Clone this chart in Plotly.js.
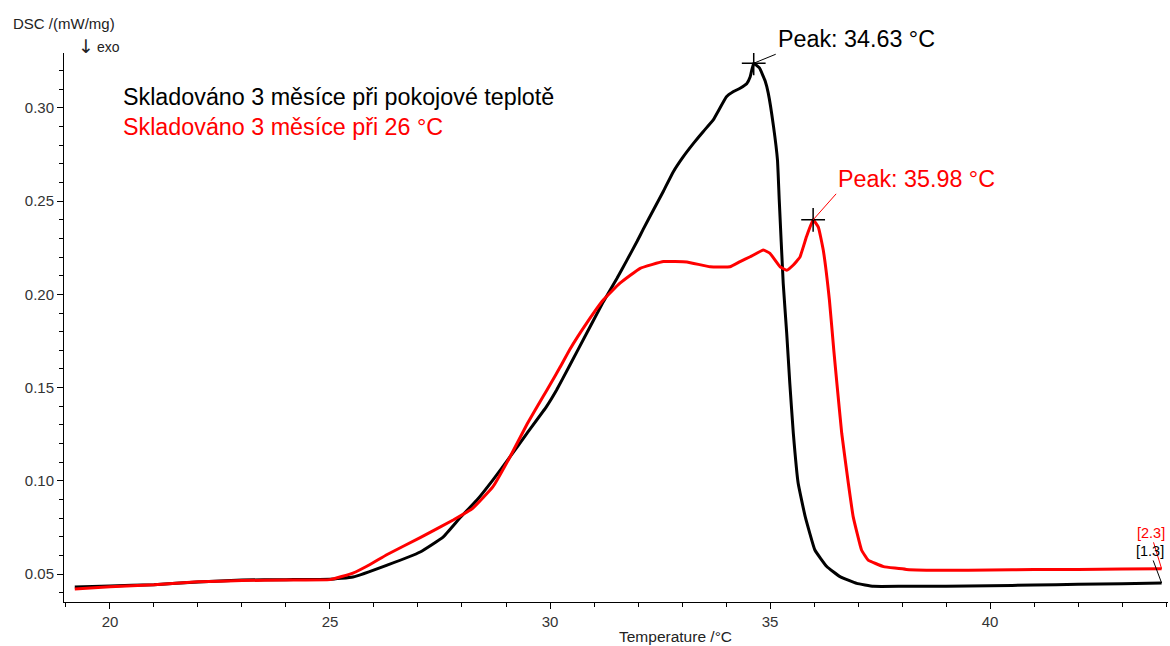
<!DOCTYPE html>
<html>
<head>
<meta charset="utf-8">
<script src="https://cdn.plot.ly/plotly-3.0.1.min.js"></script>
<style>html,body{margin:0;padding:0;background:#fff;}#chart{width:1170px;height:646px;}</style>
</head>
<body>
<div id="chart"></div>
<script>
const blackT = [19.2, 20, 21, 22, 23, 24, 25, 25.52, 26.3, 27.05, 27.57, 27.95, 28.34, 28.7, 29.09, 29.48, 29.92, 30.15, 30.45, 30.83, 31.21, 31.52, 31.74, 31.98, 32.12, 32.35, 32.58, 32.8, 33.03, 33.26, 33.48, 33.71, 34.01, 34.17, 34.32, 34.47, 34.55, 34.63, 34.76, 34.89, 34.96, 35.08, 35.17, 35.21, 35.3, 35.38, 35.45, 35.53, 35.64, 35.8, 36.02, 36.29, 36.59, 36.97, 37.35, 38, 39, 40, 41, 42, 43, 43.9];
const blackV = [0.043, 0.0436, 0.0443, 0.0457, 0.0468, 0.047, 0.0472, 0.0484, 0.0548, 0.0618, 0.0698, 0.080, 0.0897, 0.1004, 0.1128, 0.1256, 0.1398, 0.1487, 0.162, 0.179, 0.196, 0.2085, 0.218, 0.2285, 0.235, 0.2453, 0.2555, 0.2657, 0.2739, 0.281, 0.2873, 0.2936, 0.306, 0.3088, 0.3106, 0.313, 0.3168, 0.324, 0.3215, 0.3145, 0.308, 0.290, 0.272, 0.2506, 0.206, 0.179, 0.1523, 0.1255, 0.0987, 0.0808, 0.0629, 0.054, 0.0486, 0.045, 0.0434, 0.0434, 0.0435, 0.0437, 0.0441, 0.0445, 0.0448, 0.0452];

const redT = [19.2, 20, 21, 22, 23, 24, 25, 25.52, 25.9, 26.3, 27.05, 27.8, 28.25, 28.7, 29.09, 29.48, 29.85, 30.0, 30.23, 30.45, 30.83, 31.21, 31.59, 32.05, 32.58, 33.11, 33.64, 34.09, 34.32, 34.55, 34.85, 35.0, 35.23, 35.38, 35.53, 35.68, 35.83, 35.98, 36.1, 36.21, 36.35, 36.45, 36.52, 36.63, 36.78, 36.89, 37.08, 37.23, 37.58, 38.1, 39, 40, 41, 42, 43, 43.9];
const redV = [0.042, 0.0432, 0.0442, 0.0458, 0.0465, 0.0468, 0.047, 0.0505, 0.055, 0.0605, 0.0695, 0.079, 0.0854, 0.0967, 0.1128, 0.1305, 0.1455, 0.1515, 0.161, 0.1705, 0.1845, 0.197, 0.206, 0.214, 0.2176, 0.2174, 0.2148, 0.2148, 0.2176, 0.2202, 0.2238, 0.222, 0.2148, 0.213, 0.2158, 0.220, 0.231, 0.240, 0.236, 0.2238, 0.197, 0.170, 0.1523, 0.1255, 0.0987, 0.0808, 0.0629, 0.0575, 0.054, 0.0525, 0.052, 0.0522, 0.0524, 0.0525, 0.0527, 0.0528];

const peakBlack = {t: 34.63, v: 0.324};
const peakRed = {t: 35.98, v: 0.240};
const seriesNames = ["Skladováno 3 měsíce při pokojové teplotě", "Skladováno 3 měsíce při 26 °C"];
const peakLabels = ["Peak: 34.63 °C", "Peak: 35.98 °C"];
const endLabels = ["[1.3]", "[2.3]"];
const xTitle = "Temperature /°C";
const yTitle = "DSC /(mW/mg)";
const yArrow = "↓";
const yTitle2 = "exo";

const FONT = "Liberation Sans, Arial, sans-serif";

const traces = [
  {x: blackT, y: blackV, mode: 'lines', line: {color: '#000000', width: 3, shape: 'spline', smoothing: 0.3}, hoverinfo: 'skip'},
  {x: redT, y: redV, mode: 'lines', line: {color: '#ff0000', width: 3, shape: 'spline', smoothing: 0.3}, hoverinfo: 'skip'},
  {x: [peakBlack.t, peakRed.t], y: [peakBlack.v, peakRed.v], mode: 'markers', marker: {symbol: 'cross-thin', size: 17, line: {color: '#000', width: 1.5}}, hoverinfo: 'skip'}
];

const lastB = blackT.length - 1, lastR = redT.length - 1;

const layout = {
  width: 1170, height: 646,
  margin: {l: 64, r: 2, t: 53, b: 44},
  paper_bgcolor: '#fff', plot_bgcolor: '#fff',
  showlegend: false,
  font: {family: FONT, color: '#333'},
  xaxis: {
    range: [18.955, 44.045], showgrid: false, zeroline: false,
    showline: true, linecolor: '#000', linewidth: 1,
    ticks: 'outside', ticklen: 6, tickcolor: '#000', tick0: 0, dtick: 5,
    minor: {ticks: 'outside', ticklen: 4, dtick: 1, tickcolor: '#000', showgrid: false},
    tickfont: {family: FONT, size: 15, color: '#333'}
  },
  yaxis: {
    range: [0.035, 0.3295], showgrid: false, zeroline: false,
    showline: true, linecolor: '#000', linewidth: 1,
    ticks: 'outside', ticklen: 6, tickcolor: '#000', tick0: 0, dtick: 0.05, tickformat: '.2f',
    minor: {ticks: 'outside', ticklen: 4, dtick: 0.01, tickcolor: '#000', showgrid: false},
    tickfont: {family: FONT, size: 15, color: '#333'}
  },
  annotations: [
    {xref: 'paper', yref: 'paper', x: (121 - 64) / 1104, y: (602 - 97) / 549, xanchor: 'left', yanchor: 'middle', showarrow: false, text: seriesNames[0], font: {family: FONT, size: 23.3, color: '#000'}},
    {xref: 'paper', yref: 'paper', x: (121 - 64) / 1104, y: (602 - 127) / 549, xanchor: 'left', yanchor: 'middle', showarrow: false, text: seriesNames[1], font: {family: FONT, size: 23.3, color: '#ff0000'}},
    {x: peakBlack.t, y: peakBlack.v, ax: 22, ay: -9, xanchor: 'left', yanchor: 'bottom', showarrow: true, arrowhead: 0, arrowwidth: 1, arrowcolor: '#000', text: peakLabels[0], font: {family: FONT, size: 23.3, color: '#000'}},
    {x: peakRed.t, y: peakRed.v, ax: 23, ay: -26, xanchor: 'left', yanchor: 'bottom', showarrow: true, arrowhead: 0, arrowwidth: 1, arrowcolor: '#ff0000', text: peakLabels[1], font: {family: FONT, size: 23.3, color: '#ff0000'}},
    {x: redT[lastR], y: redV[lastR], ax: -11, ay: -36, showarrow: true, arrowhead: 0, arrowwidth: 1, arrowcolor: '#ff0000', text: endLabels[1], font: {family: FONT, size: 14.5, color: '#ff0000'}},
    {x: blackT[lastB], y: blackV[lastB], ax: -12, ay: -32, showarrow: true, arrowhead: 0, arrowwidth: 1, arrowcolor: '#000', text: endLabels[0], font: {family: FONT, size: 14.5, color: '#000'}},
    {xref: 'paper', yref: 'paper', x: (675 - 64) / 1104, y: 0, yshift: -34, xanchor: 'center', yanchor: 'middle', showarrow: false, text: xTitle, font: {family: FONT, size: 15.5, color: '#222'}},
    {xref: 'paper', yref: 'paper', x: 0, y: 1, xshift: -53, yshift: 30, xanchor: 'left', yanchor: 'middle', showarrow: false, text: yTitle, font: {family: FONT, size: 15, color: '#222'}},
    {xref: 'paper', yref: 'paper', x: 0, y: 1, xshift: 12, yshift: 7, xanchor: 'left', yanchor: 'middle', showarrow: false, text: yArrow, font: {family: 'DejaVu Sans, sans-serif', size: 19, color: '#222'}},
    {xref: 'paper', yref: 'paper', x: 0, y: 1, xshift: 31, yshift: 6, xanchor: 'left', yanchor: 'middle', showarrow: false, text: yTitle2, font: {family: FONT, size: 14, color: '#222'}}
  ]
};

Plotly.newPlot('chart', traces, layout, {displayModeBar: false, staticPlot: true});
</script>
</body>
</html>
